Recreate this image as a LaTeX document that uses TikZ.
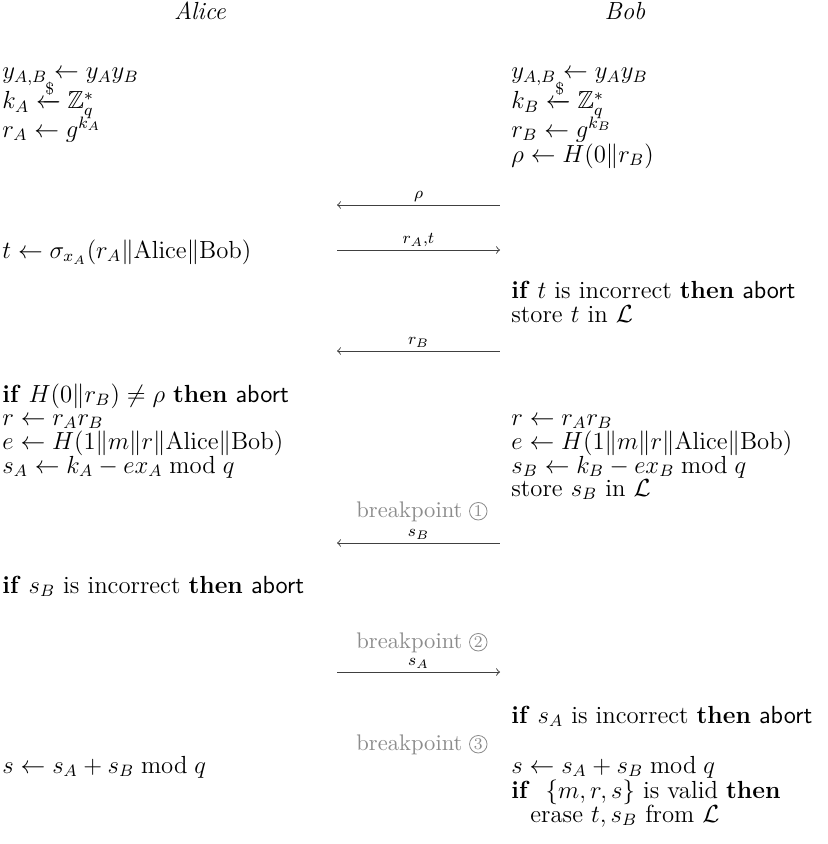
\documentclass[tikz,border=0pt,12pt]{standalone}
\usepackage{amsmath,amssymb}
\begin{document}
\begin{tikzpicture}[x=0.485pt,y=-0.485pt,
  txt/.style={anchor=base west,inner sep=0pt},
  hdr/.style={anchor=base,inner sep=0pt,font=\itshape},
  msg/.style={draw=black!75,line width=0.45pt},
  lbl/.style={font=\scriptsize,inner sep=1.5pt,above},
  bp/.style={anchor=base west,inner sep=0pt,text=black!45,font=\small},
  bpc/.style={circle,draw=black!45,text=black!45,font=\scriptsize,inner sep=0pt,minimum size=8.5pt,anchor=west}]
\useasboundingbox (0,0) rectangle (827,844);
% headers
\node[hdr] (alice) at (200,20) {Alice};
\node[hdr] (bob) at (625,20) {Bob};
% Alice column
\node[txt] (a1) at (2,79) {$y_{A,B} \leftarrow y_A y_B$};
\node[txt] (a2) at (2,109) {$k_A \xleftarrow{\$} \mathbb{Z}_q^*$};
\node[txt] (a3) at (2,137) {$r_A \leftarrow g^{k_A}$};
\node[txt] (a4) at (2,258) {$t \leftarrow \sigma_{x_A}(r_A \| \mathrm{Alice} \| \mathrm{Bob})$};
\node[txt] (a5) at (2,402) {\textbf{if} $H(0\|r_B) \neq \rho$ \textbf{then} \textsf{abort}};
\node[txt] (a6) at (2,425) {$r \leftarrow r_A r_B$};
\node[txt] (a7) at (2,449) {$e \leftarrow H(1\|m\|r\|\mathrm{Alice}\|\mathrm{Bob})$};
\node[txt] (a8) at (2,473) {$s_A \leftarrow k_A - e x_A \bmod q$};
\node[txt] (a9) at (2,593) {\textbf{if} $s_B$ is incorrect \textbf{then} \textsf{abort}};
\node[txt] (a10) at (2,773) {$s \leftarrow s_A + s_B \bmod q$};
% Bob column
\node[txt] (b1) at (511,79) {$y_{A,B} \leftarrow y_A y_B$};
\node[txt] (b2) at (511,109) {$k_B \xleftarrow{\$} \mathbb{Z}_q^*$};
\node[txt] (b3) at (511,137) {$r_B \leftarrow g^{k_B}$};
\node[txt] (b4) at (511,162) {$\rho \leftarrow H(0\|r_B)$};
\node[txt] (b5) at (511,298) {\textbf{if} $t$ is incorrect \textbf{then} \textsf{abort}};
\node[txt] (b6) at (511,322) {store $t$ in $\mathcal{L}$};
\node[txt] (b7) at (511,425) {$r \leftarrow r_A r_B$};
\node[txt] (b8) at (511,449) {$e \leftarrow H(1\|m\|r\|\mathrm{Alice}\|\mathrm{Bob})$};
\node[txt] (b9) at (511,473) {$s_B \leftarrow k_B - e x_B \bmod q$};
\node[txt] (b10) at (511,496) {store $s_B$ in $\mathcal{L}$};
\node[txt] (b11) at (511,723) {\textbf{if} $s_A$ is incorrect \textbf{then} \textsf{abort}};
\node[txt] (b12) at (511,773) {$s \leftarrow s_A + s_B \bmod q$};
\node[txt] (b13) at (511,798) {\textbf{if} \ $\{m,r,s\}$ is valid \textbf{then}};
\node[txt] (b14) at (530,822) {erase $t, s_B$ from $\mathcal{L}$};
% message endpoints
\coordinate (m1l) at (337,205); \coordinate (m1r) at (500,205);
\coordinate (m2l) at (337,250); \coordinate (m2r) at (500,250);
\coordinate (m3l) at (337,351); \coordinate (m3r) at (500,351);
\coordinate (m4l) at (337,543); \coordinate (m4r) at (500,543);
\coordinate (m5l) at (337,672); \coordinate (m5r) at (500,672);
% messages
\draw[msg,to-] (m1l) -- node[lbl] {$\rho$} (m1r);
\draw[msg,-to] (m2l) -- node[lbl] {$r_A{,}t$} (m2r);
\draw[msg,to-] (m3l) -- node[lbl] {$r_B$} (m3r);
\draw[msg,to-] (m4l) -- node[lbl] {$s_B$} (m4r);
\draw[msg,-to] (m5l) -- node[lbl] {$s_A$} (m5r);
% breakpoints
\node[bp] (bp1) at (356,517) {breakpoint};
\node[bpc] (c1) at ([xshift=3pt,yshift=2.8pt]bp1.base east) {1};
\node[bp] (bp2) at (356,648) {breakpoint};
\node[bpc] (c2) at ([xshift=3pt,yshift=2.8pt]bp2.base east) {2};
\node[bp] (bp3) at (356,750) {breakpoint};
\node[bpc] (c3) at ([xshift=3pt,yshift=2.8pt]bp3.base east) {3};
\end{tikzpicture}
\end{document}
